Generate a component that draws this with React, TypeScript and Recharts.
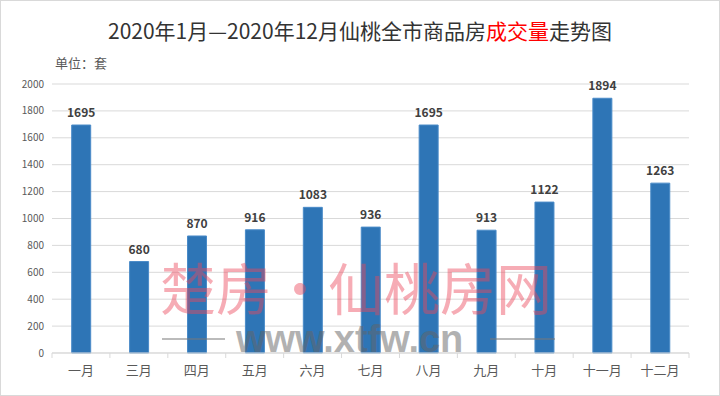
import { BarChart, Bar, XAxis, YAxis, CartesianGrid, LabelList } from 'recharts';

const months = ['一月', '三月', '四月', '五月', '六月', '七月', '八月', '九月', '十月', '十一月', '十二月'];
const deals = [1695, 680, 870, 916, 1083, 936, 1695, 913, 1122, 1894, 1263];
const yTicks = [0, 200, 400, 600, 800, 1000, 1200, 1400, 1600, 1800, 2000];

const data = months.map((m, i) => ({ month: m, deals: deals[i] }));

const W = 720;
const H = 396;
const margin = { top: 84, right: 31, bottom: 13, left: 12 };
const band = (W - margin.left - 40 - margin.right) / months.length;

const font = '"Noto Sans CJK SC", "Noto Sans", sans-serif';

function MonthTick(props: any) {
  const { x, y, payload, index } = props;
  const last = index === months.length - 1;
  return (
    <g>
      <line x1={x - band / 2} y1={y} x2={x - band / 2} y2={y + 5} stroke="#d9d9d9" />
      {last && <line x1={x + band / 2} y1={y} x2={x + band / 2} y2={y + 5} stroke="#d9d9d9" />}
      <text x={x} y={y + 22} textAnchor="middle" fill="#595959" fontSize={13} fontFamily={font}>
        {payload.value}
      </text>
    </g>
  );
}

export default function App() {
  return (
    <div style={{ position: 'fixed', left: 0, top: 0, width: W, height: H, background: '#fff', fontFamily: font }}>
      <div style={{ position: 'absolute', left: 0, top: 0, width: W - 2, height: H - 2, border: '1px solid #d9d9d9' }} />
      <div style={{ position: 'absolute', left: 0, top: 15, width: W, textAlign: 'center', fontSize: 21, color: '#333' }}>
        2020年1月—2020年12月仙桃全市商品房<span style={{ color: '#ff0000' }}>成交量</span>走势图
      </div>
      <div style={{ position: 'absolute', left: 55, top: 53, fontSize: 13, color: '#595959' }}>单位：套</div>
      <BarChart width={W} height={H} data={data} margin={margin} barCategoryGap="34%">
        <CartesianGrid vertical={false} stroke="#d9d9d9" />
        <XAxis dataKey="month" tick={<MonthTick />} tickLine={false} tickSize={0} tickMargin={0}
          axisLine={{ stroke: '#d9d9d9' }} interval={0} height={30} />
        <YAxis domain={[0, 2000]} ticks={yTicks} width={40} axisLine={false} tickLine={false}
          tickSize={0} tickMargin={8} tick={{ fill: '#595959', fontSize: 10, fontFamily: font }} />
        <Bar dataKey="deals" fill="#2e75b6" stroke="#4a8bc8" strokeWidth={1} isAnimationActive={false}>
          <LabelList dataKey="deals" position="top" offset={8} fill="#404040" fontSize={12}
            fontWeight="bold" fontFamily={font} />
        </Bar>
      </BarChart>
      <div style={{ position: 'absolute', left: 160, top: 262, fontSize: 56, lineHeight: '48px', color: 'rgba(235, 70, 90, 0.45)', whiteSpace: 'nowrap' }}>
        楚房·仙桃房网
      </div>
      <div style={{ position: 'absolute', left: 162, top: 338, width: 63, height: 2, background: 'rgba(120,120,120,0.5)' }} />
      <div style={{ position: 'absolute', left: 490, top: 338, width: 65, height: 2, background: 'rgba(120,120,120,0.5)' }} />
      <div style={{ position: 'absolute', left: 236, top: 324, fontSize: 38, lineHeight: '30px', fontWeight: 'bold', fontFamily: '"Liberation Sans", Arial, sans-serif', color: 'rgba(100,100,100,0.5)', whiteSpace: 'nowrap' }}>
        www.xtfw.cn
      </div>
    </div>
  );
}
